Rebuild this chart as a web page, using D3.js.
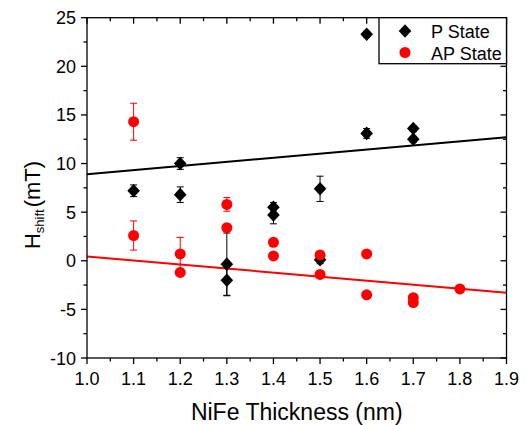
<!DOCTYPE html>
<html><head><meta charset="utf-8">
<script src="https://cdn.jsdelivr.net/npm/d3@7"></script>
<style>body{margin:0;background:#fff}svg{display:block;font-family:"Liberation Sans",Arial,sans-serif}</style>
</head><body><svg id="c" width="526" height="425"></svg>
<script>
const xTicks = [1.0,1.1,1.2,1.3,1.4,1.5,1.6,1.7,1.8,1.9];
const yTicks = [-10,-5,0,5,10,15,20,25];
const pX   = [1.1, 1.2, 1.2, 1.3, 1.3, 1.4, 1.4, 1.5, 1.5, 1.6, 1.6, 1.7, 1.7];
const pY   = [7.2, 10.0, 6.8, -0.35, -2.0, 5.5, 4.7, 7.4, 0.1, 23.3, 13.1, 13.6, 12.5];
const pErr = [0.6, 0.6, 0.8, 3.2, 1.6, 0.5, 0.9, 1.3, 0.4, 0.3, 0.5, 0.3, 0.3];
const apX   = [1.1, 1.1, 1.2, 1.2, 1.3, 1.3, 1.4, 1.4, 1.5, 1.5, 1.6, 1.6, 1.7, 1.7, 1.8];
const apY   = [14.3, 2.6, 0.7, -1.2, 5.8, 3.4, 1.9, 0.5, 0.6, -1.4, 0.7, -3.5, -3.8, -4.3, -2.9];
const apErr = [1.9, 1.5, 1.7, 0.3, 0.7, 0.3, 0.2, 0.2, 0.3, 0.3, 0.2, 0.2, 0.2, 0.2, 0.3];
const pFitX = [1.0, 1.9], pFitY = [8.9, 12.7];
const apFitX = [1.0, 1.9], apFitY = [0.45, -3.3];
const legendLabels = ["P State", "AP State"];

const svg = d3.select("#c");
const L = 87, R = 506.5, T = 17.7, B = 358;
const x = d3.scaleLinear().domain([1.0, 1.9]).range([L, R]);
const y = d3.scaleLinear().domain([-10, 25]).range([B, T]);

// fit lines
const line = d3.line().x(d => x(d[0])).y(d => y(d[1]));
svg.append("path").datum(pFitX.map((v,i)=>[v,pFitY[i]])).attr("d", line)
  .attr("stroke", "#000").attr("stroke-width", 2).attr("fill", "none");
svg.append("path").datum(apFitX.map((v,i)=>[v,apFitY[i]])).attr("d", line)
  .attr("stroke", "#f00").attr("stroke-width", 2).attr("fill", "none");

function errBars(xs, ys, es, col) {
  const g = svg.append("g").attr("stroke", col).attr("stroke-width", 1);
  xs.forEach((xv, i) => {
    const cx = x(xv), y1 = y(ys[i] + es[i]), y2 = y(ys[i] - es[i]);
    g.append("line").attr("x1", cx).attr("x2", cx).attr("y1", y1).attr("y2", y2);
    g.append("line").attr("x1", cx - 3.5).attr("x2", cx + 3.5).attr("y1", y1).attr("y2", y1);
    g.append("line").attr("x1", cx - 3.5).attr("x2", cx + 3.5).attr("y1", y2).attr("y2", y2);
  });
}
const diamond = "M0,-6.8L6.3,0L0,6.8L-6.3,0Z";
errBars(pX, pY, pErr, "#000");
svg.append("g").selectAll("path").data(pX).join("path")
  .attr("d", diamond).attr("fill", "#000")
  .attr("transform", (d, i) => `translate(${x(d)},${y(pY[i])})`);
errBars(apX, apY, apErr, "#f00");
svg.append("g").selectAll("circle").data(apX).join("circle")
  .attr("cx", d => x(d)).attr("cy", (d, i) => y(apY[i])).attr("r", 5.5).attr("fill", "#f00");

// axes
const minorX = d3.range(0, 19).map(i => 1.0 + i * 0.05);
const minorY = d3.range(0, 15).map(i => -10 + i * 2.5);
const ax = svg.append("g").attr("stroke", "#000").attr("stroke-width", 1.3);
ax.append("rect").attr("x", L).attr("y", T).attr("width", R - L).attr("height", B - T).attr("fill", "none");
minorX.forEach((v, i) => {
  const len = (i % 2 === 0) ? 6 : 3.5;
  ax.append("line").attr("x1", x(v)).attr("x2", x(v)).attr("y1", B).attr("y2", B + len);
  ax.append("line").attr("x1", x(v)).attr("x2", x(v)).attr("y1", T).attr("y2", T + len);
});
minorY.forEach((v, i) => {
  const len = (i % 2 === 0) ? 6 : 3.5;
  ax.append("line").attr("y1", y(v)).attr("y2", y(v)).attr("x1", L).attr("x2", L - len);
  ax.append("line").attr("y1", y(v)).attr("y2", y(v)).attr("x1", R).attr("x2", R - len);
});
svg.append("g").selectAll("text").data(xTicks).join("text")
  .attr("x", d => x(d)).attr("y", 385).attr("text-anchor", "middle")
  .attr("font-size", 18).text(d => d.toFixed(1));
svg.append("g").selectAll("text").data(yTicks).join("text")
  .attr("x", 76).attr("y", d => y(d) + 6.5).attr("text-anchor", "end")
  .attr("font-size", 18).text(d => d);

svg.append("text").attr("x", (L + R) / 2).attr("y", 420).attr("text-anchor", "middle")
  .attr("font-size", 23).text("NiFe Thickness (nm)");
const yt = svg.append("text").attr("transform", "translate(40,205) rotate(-90)")
  .attr("text-anchor", "middle").attr("font-size", 22);
yt.append("tspan").text("H");
yt.append("tspan").attr("font-size", 13).attr("dy", 4).text("shift");
yt.append("tspan").attr("dy", -4).attr("dx", 2).text("(mT)");

// legend
const lg = svg.append("g");
lg.append("rect").attr("x", 379).attr("y", T).attr("width", R - 379).attr("height", 46)
  .attr("fill", "#fff").attr("stroke", "#000").attr("stroke-width", 1.3);
lg.append("path").attr("d", diamond).attr("fill", "#000").attr("transform", "translate(405,31)");
lg.append("circle").attr("cx", 405).attr("cy", 52.5).attr("r", 5.5).attr("fill", "#f00");
lg.selectAll("text").data(legendLabels).join("text")
  .attr("x", 431).attr("y", (d, i) => 37.5 + i * 22).attr("font-size", 18).text(d => d);
</script></body></html>
